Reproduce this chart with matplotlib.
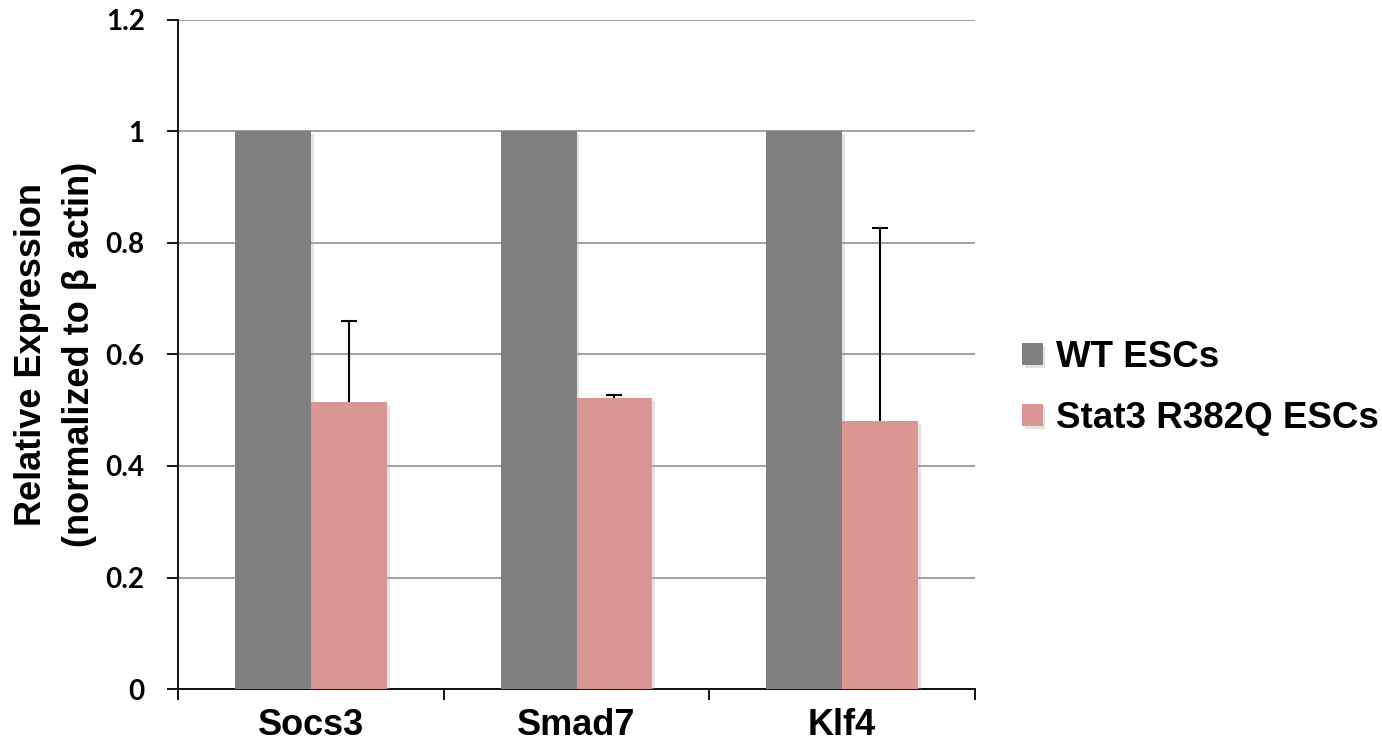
import matplotlib.pyplot as plt
import matplotlib.patheffects as pe
import numpy as np

genes = ['Socs3', 'Smad7', 'Klf4']
wt_values = [1.0, 1.0, 1.0]
mut_values = [0.515, 0.522, 0.481]
mut_err = [0.145, 0.005, 0.346]
series_names = ['WT ESCs', 'Stat3 R382Q ESCs']
yticks = [0, 0.2, 0.4, 0.6, 0.8, 1, 1.2]
ytick_labels = ['0', '0.2', '0.4', '0.6', '0.8', '1', '1.2']

wt_color = '#808080'
mut_color = '#D99694'

fig = plt.figure(figsize=(13.82, 7.54), dpi=100)
ax = fig.add_axes([0.1288, 0.0862, 0.5767, 0.8873])

x = np.arange(len(genes))
width = 0.286
shadow = [pe.SimplePatchShadow(offset=(2, -2), shadow_rgbFace='#b0b0b0', alpha=0.35), pe.Normal()]

b1 = ax.bar(x - width / 2, wt_values, width, color=wt_color, zorder=3, label=series_names[0])
b2 = ax.bar(x + width / 2, mut_values, width, color=mut_color, zorder=3, label=series_names[1])
for b in list(b1) + list(b2):
    b.set_path_effects(shadow)

# plus-only error bars: hide the lower caps
eb = ax.errorbar(x + width / 2, mut_values, yerr=[np.zeros(len(mut_err)), mut_err],
                 fmt='none', ecolor='black', elinewidth=1.5, capsize=6, capthick=1.5, zorder=4)
eb.lines[1][0].set_visible(False)

ax.set_xlim(-0.5, len(genes) - 0.5)
ax.set_ylim(0, 1.2)
ax.set_yticks(yticks)
ax.set_yticklabels(ytick_labels, fontfamily='Lato', fontweight='bold', fontsize=20)
ax.yaxis.grid(True, color='#868686', linewidth=1.1, zorder=0)
ax.set_axisbelow(True)

# labels at category centers, separator ticks at boundaries
ax.set_xticks(x)
ax.set_xticklabels(genes, fontfamily='Liberation Sans', fontweight='bold', fontsize=26)
ax.tick_params(axis='x', which='major', length=0, pad=14)
ax.set_xticks(np.arange(-0.5, len(genes)), minor=True)
ax.tick_params(axis='x', which='minor', length=8, width=1.3, direction='out', color='black')
ax.tick_params(axis='y', length=8, width=1.3, direction='out', color='black', pad=16)

for side in ['top', 'right']:
    ax.spines[side].set_visible(False)
for side in ['left', 'bottom']:
    ax.spines[side].set_linewidth(1.3)
    ax.spines[side].set_color('black')

ax.set_ylabel('Relative Expression\n(normalized to \u03b2 actin)', fontfamily='Liberation Sans',
              fontweight='bold', fontsize=26, linespacing=1.5, labelpad=6)

ax.legend(loc='center left', bbox_to_anchor=(1.018, 0.45), frameon=False,
          prop={'family': 'Liberation Sans', 'weight': 'bold', 'size': 26.5},
          handlelength=0.55, handleheight=0.55, handletextpad=0.35, labelspacing=0.7)

fig.savefig('out.png', dpi=100)
